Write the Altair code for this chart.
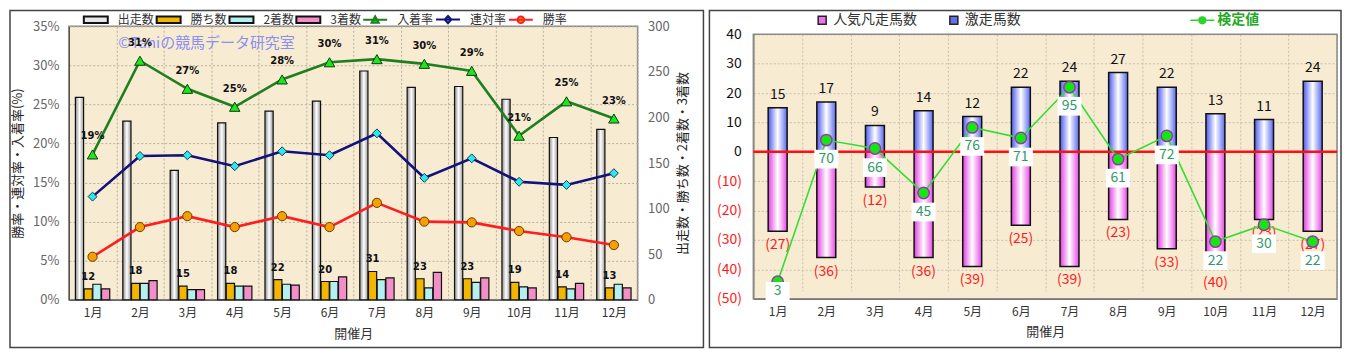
import altair as alt
import pandas as pd

# ---------------- data ----------------
months = ["1月", "2月", "3月", "4月", "5月", "6月", "7月", "8月", "9月", "10月", "11月", "12月"]

# left chart: counts (right axis) and rates in % (left axis)
starts = [222, 196, 142, 194, 207, 218, 251, 233, 234, 220, 178, 187]
wins = [12, 18, 15, 18, 22, 20, 31, 23, 23, 19, 14, 13]
seconds = [17, 18, 11, 15, 17, 20, 22, 13, 19, 14, 12, 17]
thirds = [12, 21, 11, 15, 16, 25, 24, 30, 24, 13, 18, 13]
place_rate = [18.6, 30.6, 27.0, 24.7, 28.2, 30.4, 30.8, 30.2, 29.3, 21.0, 25.4, 23.2]
rentai_rate = [13.2, 18.4, 18.5, 17.1, 19.0, 18.5, 21.3, 15.6, 18.1, 15.1, 14.7, 16.2]
win_rate = [5.5, 9.3, 10.7, 9.3, 10.7, 9.3, 12.4, 10.0, 9.9, 8.8, 8.0, 7.0]

bar_series = ["出走数", "勝ち数", "2着数", "3着数"]
rate_series = ["入着率", "連対率", "勝率"]

# right chart
surge = [15, 17, 9, 14, 12, 22, 24, 27, 22, 13, 11, 24]
flop = [-27, -36, -12, -36, -39, -25, -39, -23, -33, -40, -23, -27]
test_value = [3, 70, 66, 45, 76, 71, 95, 61, 72, 22, 30, 22]
right_kinds = ["人気凡走馬数", "激走馬数"]
test_name = ["検定値"]

FONT = "Noto Sans CJK JP"
BEIGE = "#f7ebd2"

bars_df = pd.DataFrame({
    "month": months * 4,
    "series": [s for s in bar_series for _ in months],
    "count": starts + wins + seconds + thirds,
})
rates_df = pd.DataFrame({
    "month": months * 3,
    "kind": [s for s in rate_series for _ in months],
    "rate": place_rate + rentai_rate + win_rate,
})
legend_names = bar_series + rate_series
carrier_left = pd.DataFrame({"month": [months[0]] * len(legend_names), "item": legend_names,
                             "rate": [-100] * len(legend_names)})
one = pd.DataFrame({"k": [0]})

# ---------------- left chart ----------------
W1, H1 = 570, 274
FRAME_TOP = -16

def grad(c_edge, c_mid, c_edge2):
    return alt.LinearGradient(gradient="linear", x1=0, x2=1, y1=0, y2=0,
                              stops=[alt.GradientStop(offset=0, color=c_edge),
                                     alt.GradientStop(offset=0.5, color=c_mid),
                                     alt.GradientStop(offset=1, color=c_edge2)])

x_left = alt.X("month:N", sort=months,
               scale=alt.Scale(domain=months, paddingInner=0, paddingOuter=0),
               axis=alt.Axis(title="開催月", tickBand="extent", grid=True, gridDash=[2, 2],
                             gridColor="#b8b0a0", ticks=False, domainColor="#444", labelAngle=0,
                             labelPadding=8, labelFontSize=12, labelColor="#333",
                             titleFontSize=13, titleFontWeight="normal", titleColor="#333",
                             titlePadding=9))
xoff = alt.XOffset("series:N", sort=bar_series,
                   scale=alt.Scale(domain=bar_series, paddingInner=0.06, paddingOuter=0.75))
y_count = alt.Y("count:Q", scale=alt.Scale(domain=[0, 300]),
                axis=alt.Axis(orient="right", values=list(range(0, 301, 50)), grid=False,
                              ticks=False, domain=False, labelColor="#666", labelFontSize=13,
                              labelPadding=10, title="出走数・勝ち数・2着数・3着数",
                              titleAngle=270, titleBaseline="top", titleFontSize=13,
                              titleFontWeight="normal", titleColor="#222", titlePadding=7))
y_rate = alt.Y("rate:Q", scale=alt.Scale(domain=[0, 35]),
               axis=alt.Axis(orient="left", values=list(range(0, 36, 5)),
                             labelExpr="datum.value + '%'", grid=True, gridDash=[2, 2],
                             gridColor="#b8b0a0", ticks=False, domainColor="#444",
                             labelColor="#666", labelFontSize=13, labelPadding=10,
                             title="勝率・連対率・入着率(%)", titleFontSize=13,
                             titleFontWeight="normal", titleColor="#222", titlePadding=8))

frame_left = alt.Chart(one).mark_rect(fillOpacity=0, stroke="#444", strokeWidth=1.5).encode(
    x=alt.value(-59), x2=alt.value(W1 + 66), y=alt.value(FRAME_TOP), y2=alt.value(H1 + 48))
watermark = alt.Chart(one).mark_text(text="©Taniの競馬データ研究室", fontSize=15, color="#8a90f0",
                                     font=FONT).encode(x=alt.value(138), y=alt.value(17))

bar_base = alt.Chart(bars_df)
bar_styles = {
    "出走数": grad("#8a8a8a", "#ffffff", "#9a9a9a"),
    "勝ち数": "#f2b600",
    "2着数": "#b4f0f0",
    "3着数": "#f28ec8",
}
bar_layers = []
for s in bar_series:
    bar_layers.append(
        bar_base.transform_filter(alt.datum.series == s)
        .mark_bar(fill=bar_styles[s], stroke="#111", strokeWidth=1.2)
        .encode(x=x_left, xOffset=xoff, y=y_count)
    )
win_text = bar_base.transform_filter(alt.datum.series == "勝ち数").mark_text(
    dy=-12, fontSize=10, fontWeight="bold", font="DejaVu Sans", color="#111"
).encode(x=x_left, xOffset=xoff, y=y_count, text="count:Q")

bars_group = alt.layer(frame_left, watermark, *bar_layers, win_text)

rate_base = alt.Chart(rates_df)
line_styles = {
    "入着率": dict(line="#1f7f1f", fill="#1ee61e", stroke="#0c3c0c", shape="triangle-up", size=110),
    "連対率": dict(line="#12127a", fill="#2ee6f0", stroke="#103a50", shape="diamond", size=80),
    "勝率": dict(line="#ff1e1e", fill="#f5a000", stroke="#6a3a00", shape="circle", size=85),
}
rate_layers = []
for s in rate_series:
    st = line_styles[s]
    f = rate_base.transform_filter(alt.datum.kind == s)
    rate_layers.append(f.mark_line(color=st["line"], strokeWidth=2.6).encode(x=x_left, y=y_rate))
    rate_layers.append(f.mark_point(shape=st["shape"], filled=True, fill=st["fill"], stroke=st["stroke"],
                                    strokeWidth=1, size=st["size"], opacity=1).encode(x=x_left, y=y_rate))
place_text = rate_base.transform_filter(alt.datum.kind == "入着率").transform_calculate(
    lbl="format(datum.rate, '.0f') + '%'"
).mark_text(dy=-18, fontSize=10, fontWeight="bold", font="DejaVu Sans", color="#111").encode(
    x=x_left, y=y_rate, text="lbl:N")

bar_path = "M-2,-0.55H2V0.55H-2Z"
legend_paths = [bar_path, bar_path, bar_path, bar_path,
                "M-2,0H2M-0.6,0.5L0,-0.6L0.6,0.5Z",
                "M-2,0H2M0,-0.6L0.55,0L0,0.6L-0.55,0Z",
                "M-2,0H2M-0.55,0A0.55,0.55 0 1,0 0.55,0A0.55,0.55 0 1,0 -0.55,0Z"]
legend_fills = ["#e6e6e6", "#f2b600", "#b4f0f0", "#f28ec8", "#1ee61e", "#2ee6f0", "#f5a000"]
legend_strokes = ["#111", "#111", "#111", "#111", "#1f7f1f", "#12127a", "#ff1e1e"]
leg_left = alt.Legend(title=None, orient="none", legendX=14, legendY=-14, direction="horizontal",
                      symbolSize=144, symbolOffset=6, labelOffset=15, symbolStrokeWidth=2,
                      labelFontSize=12, labelColor="#333", labelFont=FONT, columnPadding=-2,
                      padding=0)
carrier = alt.Chart(carrier_left).mark_point(filled=True, clip=True, opacity=1).encode(
    x=x_left, y=y_rate,
    shape=alt.Shape("item:N", sort=legend_names,
                    scale=alt.Scale(domain=legend_names, range=legend_paths), legend=leg_left),
    fill=alt.Fill("item:N", sort=legend_names,
                  scale=alt.Scale(domain=legend_names, range=legend_fills), legend=leg_left),
    stroke=alt.Stroke("item:N", sort=legend_names,
                      scale=alt.Scale(domain=legend_names, range=legend_strokes), legend=leg_left),
)
rates_group = alt.layer(*rate_layers, place_text, carrier)

left = alt.layer(bars_group, rates_group).resolve_scale(y="independent").properties(width=W1, height=H1)

# ---------------- right chart ----------------
# the view is as tall as the left one; the drawing area of the right panel starts TOP px lower
W2, H2, TOP = 585, 273, 8
right_df = pd.DataFrame({"month": months, "surge": surge, "flop": flop, "test": test_value})
x_right = alt.X("month:N", sort=months,
                scale=alt.Scale(domain=months, paddingInner=0, paddingOuter=0),
                axis=alt.Axis(title="開催月", tickBand="extent", grid=True, gridDash=[2, 2],
                              gridColor="#c8c0b0", ticks=False, domainColor="#333", labelAngle=0,
                              labelPadding=8, labelFontSize=12, labelColor="#333",
                              titleFontSize=13, titleFontWeight="normal", titleColor="#333",
                              titlePadding=8))

def y_main(field):
    return alt.Y(f"{field}:Q", scale=alt.Scale(domain=[-50, 40], range=[H2, TOP]),
                 axis=alt.Axis(values=list(range(-50, 41, 10)), title=None, labelOverlap=False,
                               labelExpr="datum.value < 0 ? '(' + (-datum.value) + ')' : datum.value",
                               labelColor={"condition": {"test": "datum.value < 0", "value": "#ff1a1a"},
                                           "value": "#111"},
                               labelFontSize=14, labelPadding=12, ticks=False, grid=True,
                               gridDash=[2, 2], gridColor="#c8c0b0", domainColor="#333"))

rbase = alt.Chart(right_df)
frame_right = alt.Chart(one).mark_rect(fillOpacity=0, stroke="#444", strokeWidth=1.5).encode(
    x=alt.value(-44), x2=alt.value(W2 + 4), y=alt.value(FRAME_TOP), y2=alt.value(H2 + 49))
top_strip = alt.Chart(one).mark_rect(fill="white", strokeWidth=0).encode(
    x=alt.value(-1), x2=alt.value(W2 + 1), y=alt.value(-1), y2=alt.value(TOP))
plot_border = alt.Chart(one).mark_rect(fillOpacity=0, stroke="#8a8a8a", strokeWidth=1.5).encode(
    x=alt.value(0), x2=alt.value(W2), y=alt.value(TOP), y2=alt.value(H2))
blue_bars = rbase.mark_bar(size=19, fill=grad("#4a5aee", "#ffffff", "#5868f0"), stroke="#111",
                           strokeWidth=1.5).encode(x=x_right, y=y_main("surge"))
pink_bars = rbase.mark_bar(size=19, fill=grad("#e23ce2", "#ffffff", "#e848e8"), stroke="#111",
                           strokeWidth=1.5).encode(x=x_right, y=y_main("flop"))
zero_rule = alt.Chart(one).mark_rule(color="#ff1010", strokeWidth=2.5).encode(y=y_main("k"))
surge_text = rbase.mark_text(dy=-13, fontSize=14, color="#111", font=FONT).encode(
    x=x_right, y=y_main("surge"), text="surge:Q")
flop_text = rbase.transform_calculate(lbl="'(' + (-datum.flop) + ')'").mark_text(
    dy=14, fontSize=14, color="#ff1a1a", font=FONT).encode(x=x_right, y=y_main("flop"), text="lbl:N")

carrier_right_df = pd.DataFrame({"month": [months[0]] * 2, "kind": right_kinds, "val": [-1000, -1000]})
carrier_right = alt.Chart(carrier_right_df).mark_point(filled=True, clip=True, opacity=1, shape="square").encode(
    x=x_right, y=y_main("val"),
    fill=alt.Fill("kind:N", sort=right_kinds, scale=alt.Scale(domain=right_kinds, range=["#f070f0", "#6070f0"]),
                  legend=alt.Legend(title=None, orient="none", legendX=62, legendY=-13, direction="horizontal",
                                    symbolSize=64, symbolType="square", symbolStrokeColor="#222",
                                    symbolStrokeWidth=1.5, labelOffset=4, labelFontSize=14,
                                    labelColor="#333", labelFont=FONT, columnPadding=30, padding=0)),
)
main_group = alt.layer(frame_right, top_strip, plot_border, blue_bars, pink_bars, zero_rule,
                       surge_text, flop_text, carrier_right)

y_test_axis = dict(scale=alt.Scale(domain=[-5, 120], range=[H2, TOP]), axis=None)
test_line = rbase.mark_line(color="#33dd33", strokeWidth=1.6).encode(
    x=x_right, y=alt.Y("test:Q", **y_test_axis))
test_pts = rbase.mark_point(filled=True, fill="#14e614", stroke="#9a36a8", strokeWidth=1.5, size=130,
                            opacity=1).encode(x=x_right, y=alt.Y("test:Q", **y_test_axis))
# value labels sit just below their marker, kept inside the plot area
lbl_base = rbase.transform_calculate(ly="max(datum.test - 9, -1.5)")
test_box = lbl_base.mark_point(shape="M-1,-0.78H1V0.78H-1Z", filled=True, fill="#ffffff", strokeWidth=0,
                               size=576, opacity=1).encode(x=x_right, y=alt.Y("ly:Q", **y_test_axis))
test_text = lbl_base.mark_text(fontSize=14, color="#2e9a68", font=FONT).encode(
    x=x_right, y=alt.Y("ly:Q", **y_test_axis), text="test:Q")
carrier_test_df = pd.DataFrame({"month": [months[0]], "s": test_name, "test": [-1000]})
leg_test = alt.Legend(title=None, orient="none", legendX=437, legendY=-13, direction="horizontal",
                      symbolSize=144, symbolOffset=6, labelOffset=8, symbolStrokeWidth=1.5,
                      labelFontSize=14, labelFontWeight="bold", labelColor="#22aa22", labelFont=FONT,
                      padding=0)
carrier_test = alt.Chart(carrier_test_df).mark_point(filled=True, clip=True, opacity=1).encode(
    x=x_right, y=alt.Y("test:Q", **y_test_axis),
    shape=alt.Shape("s:N", scale=alt.Scale(domain=test_name,
                    range=["M-2,0H2M-0.55,0A0.55,0.55 0 1,0 0.55,0A0.55,0.55 0 1,0 -0.55,0Z"]), legend=leg_test),
    fill=alt.Fill("s:N", scale=alt.Scale(domain=test_name, range=["#14e614"]), legend=leg_test),
    stroke=alt.Stroke("s:N", scale=alt.Scale(domain=test_name, range=["#33cc33"]), legend=leg_test),
)
test_group = alt.layer(test_line, test_pts, test_box, test_text, carrier_test)

right = alt.layer(main_group, test_group).resolve_scale(
    y="independent", fill="independent", shape="independent", stroke="independent"
).resolve_legend(fill="independent", shape="independent", stroke="independent").properties(
    width=W2, height=H2, view=alt.ViewBackground(fill=BEIGE, stroke="transparent"))

chart = alt.hconcat(left, right, spacing=2).resolve_scale(
    fill="independent", shape="independent", stroke="independent"
).resolve_legend(
    fill="independent", shape="independent", stroke="independent"
).properties(padding=0, background="white").configure_view(
    fill=BEIGE, stroke="#8a8a8a", strokeWidth=1.5
).configure_axis(labelFont=FONT, titleFont=FONT).configure_text(font=FONT)

chart.save("out.html", embed_options={"renderer": "svg", "actions": False})
